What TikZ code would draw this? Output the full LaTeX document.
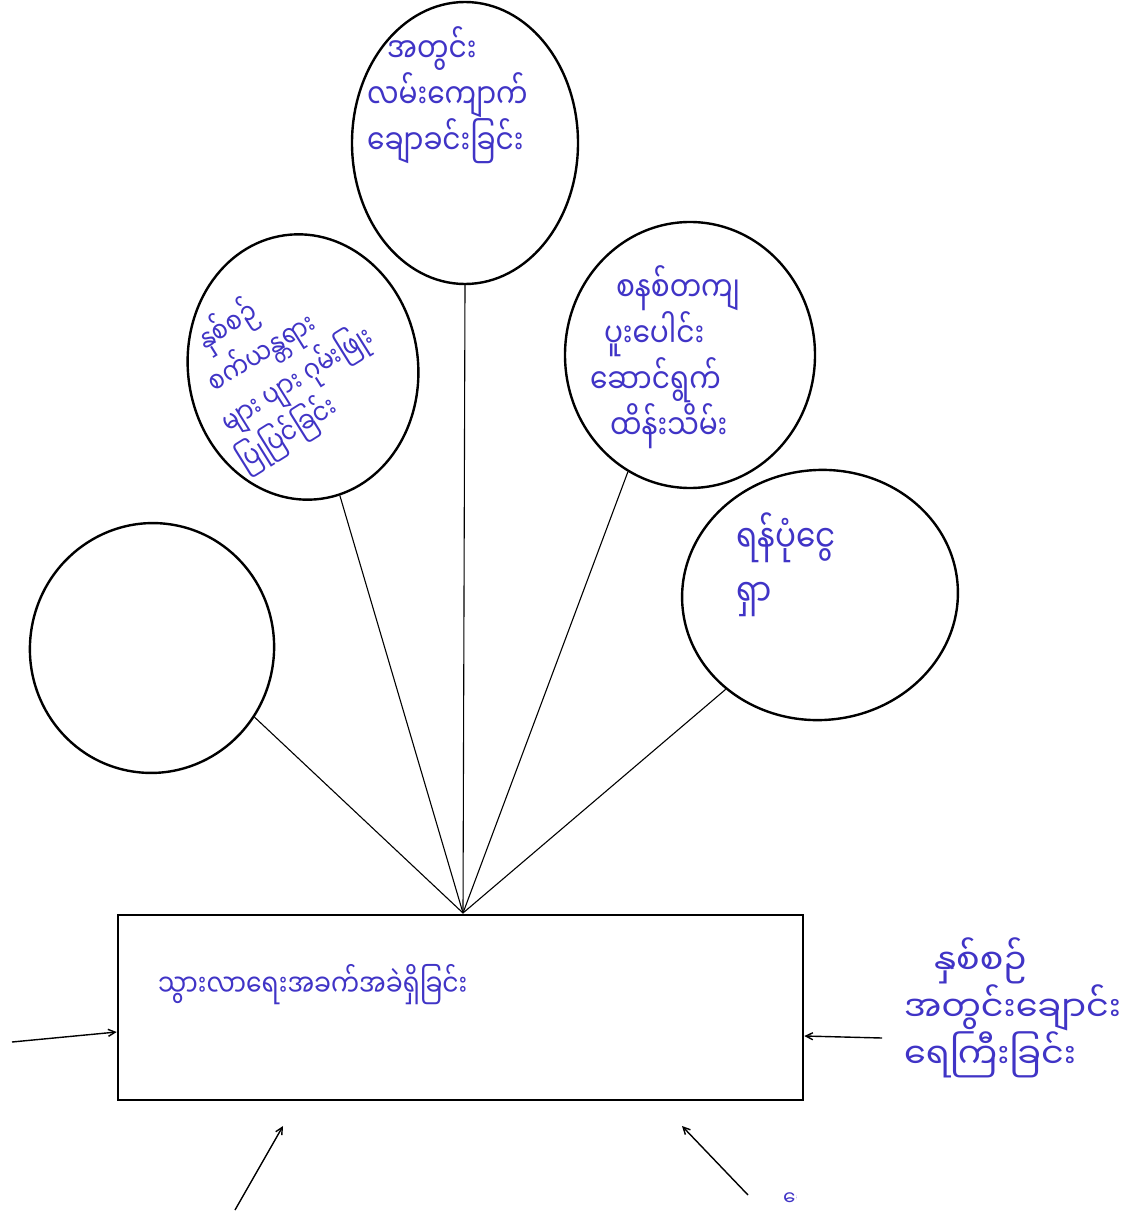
\documentclass[tikz,border=0pt]{standalone}
\usepackage{fontspec}
\newfontfamily\mya[Script=Myanmar]{Noto Sans Myanmar UI}
\usetikzlibrary{shapes.geometric,arrows.meta}
\definecolor{ink}{RGB}{64,52,198}
\newcommand\tallln[1]{\scalebox{1}[1.22]{#1}}
\tikzset{
  bubble/.style={draw=black, line width=2.4pt, ellipse, inner sep=0pt},
  link/.style={draw=black, line width=1.1pt},
  feed/.style={draw=black, line width=1.4pt, -{Straight Barb[length=7pt,width=7pt]}},
  hand/.style={text=ink, align=left, inner sep=0pt},
}
\begin{document}
\begin{tikzpicture}[x=1pt,y=-1pt]
\useasboundingbox (0,0) rectangle (1136,1212);
\fill[white] (0,0) rectangle (1136,1212);
% bubbles
\node[bubble, minimum width=226pt, minimum height=282pt] (b1) at (465,143) {};
\node[bubble, minimum width=230pt, minimum height=266pt, rotate=8] (b2) at (303,367) {};
\node[bubble, minimum width=250pt, minimum height=266pt] (b3) at (690,355) {};
\node[bubble, minimum width=244pt, minimum height=250pt, rotate=-10] (b4) at (152,648) {};
\node[bubble, minimum width=276pt, minimum height=250pt, rotate=5] (b5) at (820,595) {};
% box
\node[draw=black, line width=2.6pt, minimum width=685pt, minimum height=185pt, inner sep=0pt] (box) at (460.5,1007.5) {};
\coordinate (hub) at (463,913);
% links
\draw[link] (b1.south) -- (hub);
\draw[link] (b2.-82) -- (hub);
\draw[link] (b3.-118) -- (hub);
\draw[link] (b4.-24) -- (hub);
\draw[link] (b5.-140) -- (hub);
% texts
\node[hand, anchor=west, font=\mya\fontsize{28}{46}\selectfont] (t1) at (367,95) {\hspace*{20pt}\tallln{အတွင်း}\\\tallln{လမ်းကျောက်}\\\tallln{ချောခင်းခြင်း}};
\node[hand, rotate=32, font=\mya\fontsize{24}{41}\selectfont] (t2) at (284,364) {\hspace*{30pt}\tallln{နှစ်စဉ်}\\\hspace*{16pt}\tallln{စက်ယန္တရား}\\\hspace*{6pt}\tallln{များ ပျား ဂုမ်းဖြုး}\\\tallln{ပြုပြင်ခြင်း}};
\node[hand, anchor=center, font=\mya\fontsize{28}{46}\selectfont] (t3) at (665,357) {\hspace*{26pt}\tallln{စနစ်တကျ}\\\hspace*{14pt}\tallln{ပူးပေါင်း}\\\tallln{ဆောင်ရွက်}\\\hspace*{20pt}\tallln{ထိန်းသိမ်း}};
\node[hand, anchor=west, font=\mya\fontsize{31}{54}\selectfont] (t5) at (736,565) {\tallln{ရန်ပုံငွေ}\\\tallln{ရှာ}};
\node[hand, anchor=west, font=\mya\fontsize{25}{40}\selectfont] (t6) at (158,985) {\tallln{သွားလာရေးအခက်အခဲရှိခြင်း}};
\node[hand, anchor=west, font=\mya\fontsize{35}{42}\selectfont] (t7) at (904,1008) {\hspace*{30pt}နှစ်စဉ်\\အတွင်းချောင်း\\ရေကြီးခြင်း};
\begin{scope}
\clip (772,1182) rectangle (796,1212);
\node[hand, anchor=west, font=\mya\fontsize{20}{30}\selectfont] (t8) at (783,1199) {ေ};
\end{scope}
% feeding arrows
\coordinate (a1) at (12,1042);
\coordinate (a2) at (882,1038);
\coordinate (a3) at (235,1210);
\coordinate (a4) at (748,1195);
\coordinate (e3) at (283,1126);
\coordinate (e4) at (682,1126);
\draw[feed] (a1) -- (box.west |- 0,1032);
\draw[feed] (a2) -- (box.east |- 0,1036);
\draw[feed] (a3) -- (e3);
\draw[feed] (a4) -- (e4);
\end{tikzpicture}
\end{document}
